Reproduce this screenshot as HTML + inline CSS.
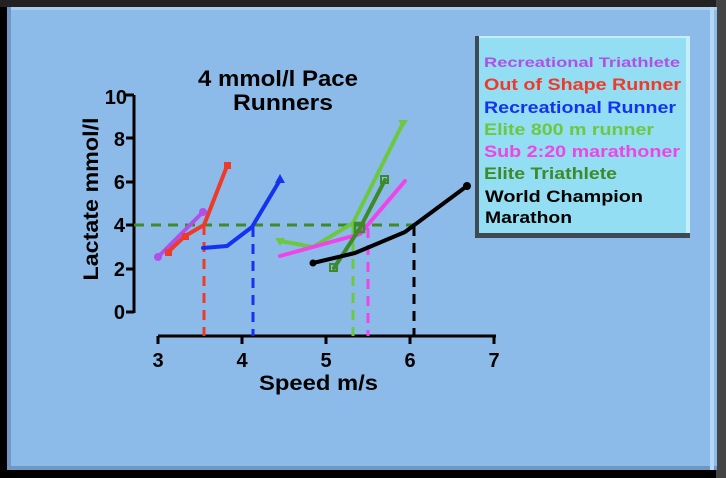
<!DOCTYPE html>
<html><head><style>
body{margin:0;width:726px;height:478px;background:#000;overflow:hidden;font-family:"Liberation Sans",sans-serif;}
</style></head><body>
<svg width="726" height="478" xmlns="http://www.w3.org/2000/svg" style="position:absolute;left:0;top:0">
<rect x="0" y="0" width="726" height="478" fill="#000"/>
<rect x="0" y="0" width="726" height="7" fill="#222"/>
<rect x="716" y="0" width="10" height="478" fill="#444"/>
<rect x="7" y="7" width="710" height="463" fill="#6f98c4"/>
<rect x="11" y="7" width="706" height="459" fill="#8dbbe9"/>
<rect x="11" y="7" width="706" height="3" fill="#a7cdf2"/>
<rect x="710" y="7" width="4" height="463" fill="#b7d8f5"/>
<g font-family="Liberation Sans, sans-serif" font-weight="bold">
<text x="198" y="86" font-size="22" textLength="160" lengthAdjust="spacingAndGlyphs">4 mmol/l Pace</text>
<text x="233" y="110" font-size="22" textLength="100" lengthAdjust="spacingAndGlyphs">Runners</text>
<text x="259" y="390" font-size="21" textLength="119" lengthAdjust="spacingAndGlyphs">Speed m/s</text>
<text transform="translate(98,199) rotate(-90)" font-size="21" text-anchor="middle" textLength="163" lengthAdjust="spacingAndGlyphs">Lactate mmol/l</text>
<g font-size="20" text-anchor="end">
<text x="127" y="104">10</text><text x="125" y="146">8</text><text x="125" y="189">6</text><text x="125" y="232">4</text><text x="125" y="276">2</text><text x="125" y="319">0</text>
</g>
<g font-size="20" text-anchor="middle">
<text x="158" y="367">3</text><text x="242" y="367">4</text><text x="326" y="367">5</text><text x="410" y="367">6</text><text x="494" y="367">7</text>
</g>
</g>
<g stroke="#000" stroke-width="3" fill="none">
<path d="M134 95V313M126 95H134M126 138H134M126 182H134M126 225H134M126 269H134M126 312H134"/>
<path d="M158 336H496M158 336V344M242 336V344M326 336V344M410 336V344M494 336V344"/>
</g>
<g stroke-width="3" stroke-dasharray="10,7" fill="none">
<path d="M134 225H414" stroke="#3d8a28"/>
<path d="M204 225V336" stroke="#ee3a2a"/>
<path d="M253 227V336" stroke="#1432f0"/>
<path d="M353 225V336" stroke="#6cc840"/>
<path d="M368 228V336" stroke="#ee44e8"/>
<path d="M414 226V336" stroke="#000"/>
</g>
<g fill="none" stroke-width="4" stroke-linejoin="round" stroke-linecap="round">
<polyline points="158,257 203,212" stroke="#b050e8"/>
<polyline points="168,252 185,236 204,225 227,166" stroke="#ee3a2a"/>
<polyline points="203,248 227,246 252,227 280,180" stroke="#1432f0"/>
<polyline points="280,241 313,247 353,223 403,123" stroke="#6cc840"/>
<polyline points="280,256 360,234 405,181" stroke="#ee44e8"/>
<polyline points="334,268 360,228 385,180" stroke="#3d8a28"/>
<polyline points="313,263 355,253 405,232 413,226 467,186" stroke="#000"/>
</g>
<g>
<circle cx="158" cy="257" r="4" fill="#b050e8"/><circle cx="203" cy="212" r="4" fill="#b050e8"/>
<rect x="165" y="249" width="7" height="7" fill="#ee3a2a"/><rect x="182" y="233" width="7" height="7" fill="#ee3a2a"/><rect x="224" y="162" width="7" height="7" fill="#ee3a2a"/>
<path d="M280 174l5 9h-10z" fill="#1432f0"/>
<path d="M398 120h10l-5 8z" fill="#6cc840"/><path d="M275 238h10l-5 8z" fill="#6cc840"/>
<rect x="330" y="264" width="7" height="7" fill="none" stroke="#3d8a28" stroke-width="2"/>
<rect x="381" y="176" width="7" height="7" fill="none" stroke="#3d8a28" stroke-width="2"/>
<rect x="355" y="223" width="9" height="9" fill="none" stroke="#3d8a28" stroke-width="2.5"/>
<circle cx="313" cy="263" r="3.5" fill="#000"/><circle cx="467" cy="186" r="4" fill="#000"/>
</g>
<rect x="475" y="36" width="215" height="202" fill="#3d4a55"/>
<rect x="479" y="36" width="211" height="197" fill="#93def2"/>
<rect x="479" y="36" width="211" height="2" fill="#c4eefa"/>
<rect x="686" y="36" width="4" height="197" fill="#c4eefa"/>
<g font-family="Liberation Sans, sans-serif" font-weight="bold">
<text x="484" y="67" font-size="14" fill="#b050e8" textLength="196" lengthAdjust="spacingAndGlyphs">Recreational Triathlete</text>
<text x="484" y="90" font-size="17" fill="#ee3a2a" textLength="197" lengthAdjust="spacingAndGlyphs">Out of Shape Runner</text>
<text x="484" y="113" font-size="17" fill="#1432f0" textLength="192" lengthAdjust="spacingAndGlyphs">Recreational Runner</text>
<text x="484" y="135" font-size="17" fill="#6cc840" textLength="170" lengthAdjust="spacingAndGlyphs">Elite 800 m runner</text>
<text x="484" y="157" font-size="17" fill="#ee44e8" textLength="196" lengthAdjust="spacingAndGlyphs">Sub 2:20 marathoner</text>
<text x="484" y="179" font-size="17" fill="#3d8a28" textLength="133" lengthAdjust="spacingAndGlyphs">Elite Triathlete</text>
<text x="485" y="202" font-size="17" fill="#000" textLength="158" lengthAdjust="spacingAndGlyphs">World Champion</text>
<text x="485" y="223" font-size="17" fill="#000" textLength="87" lengthAdjust="spacingAndGlyphs">Marathon</text>
</g>
</svg>
</body></html>
